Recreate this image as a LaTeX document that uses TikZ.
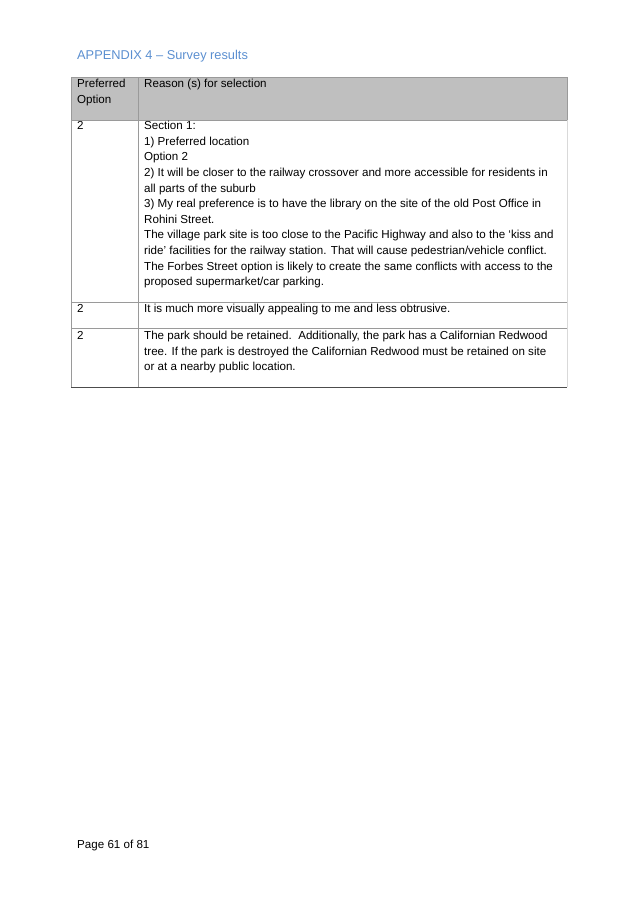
\documentclass[tikz,border=0pt]{standalone}
\usepackage{fontspec}
\setmainfont{Liberation Sans}
\definecolor{titleblue}{HTML}{5B8FD0}
\definecolor{headgrey}{HTML}{BFBFBF}
\definecolor{rulegrey}{HTML}{9A9A9A}
\tikzset{
  celltext/.style={anchor=north west, inner sep=0pt, align=left, font=\fontsize{11.6}{15.6}\selectfont},
  cellrule/.style={rulegrey, line width=0.6pt}
}
\begin{document}
\begin{tikzpicture}[x=1pt,y=-1pt]
  \useasboundingbox (0,0) rectangle (638,900);
  \node[anchor=west, inner sep=0pt, text=titleblue, font=\fontsize{12.8}{14}\selectfont] (title) at (77,56) {APPENDIX 4 -- Survey results};
  % table header
  \fill[headgrey] (71,77) rectangle (567,120);
  \draw[cellrule, line width=1pt] (71,77) rectangle (567,120);
  \draw[cellrule, line width=1pt] (138,77) -- (138,120);
  % body rules
  \draw[cellrule, black!15] (567,120) -- (567,387);
  \draw[cellrule] (71,120) -- (71,387);
  \draw[cellrule] (138,120) -- (138,387);
  \draw[cellrule] (71,302) -- (567,302);
  \draw[cellrule] (71,328) -- (567,328);
  \draw[cellrule, black!70, line width=0.8pt] (71,387) -- (567,387);
  % header text
  \node[celltext] (hopt) at (77,79) {Preferred\\Option};
  \node[celltext] (hreason) at (144,79) {Reason (s) for selection};
  % row 1
  \node[celltext] (opta) at (77,121) {2};
  \node[celltext] (reasona) at (144,121) {Section 1:\\
1) Preferred location\\
Option 2\\
2) It will be closer to the railway crossover and more accessible for residents in\\
all parts of the suburb\\
3) My real preference is to have the library on the site of the old Post Office in\\
Rohini Street.\\
The village park site is too close to the Pacific Highway and also to the `kiss and\\
ride' facilities for the railway station. That will cause pedestrian/vehicle conflict.\\
The Forbes Street option is likely to create the same conflicts with access to the\\
proposed supermarket/car parking.};
  % row 2
  \node[celltext] (optb) at (77,304) {2};
  \node[celltext] (reasonb) at (144,304) {It is much more visually appealing to me and less obtrusive.};
  % row 3
  \node[celltext] (optc) at (77,331) {2};
  \node[celltext] (reasonc) at (144,331) {The park should be retained.\ \ Additionally, the park has a Californian Redwood\\
tree. If the park is destroyed the Californian Redwood must be retained on site\\
or at a nearby public location.};
  % footer
  \node[anchor=west, inner sep=0pt, font=\fontsize{11.6}{12}\selectfont] (footer) at (77,845) {Page 61 of 81};
\end{tikzpicture}
\end{document}
